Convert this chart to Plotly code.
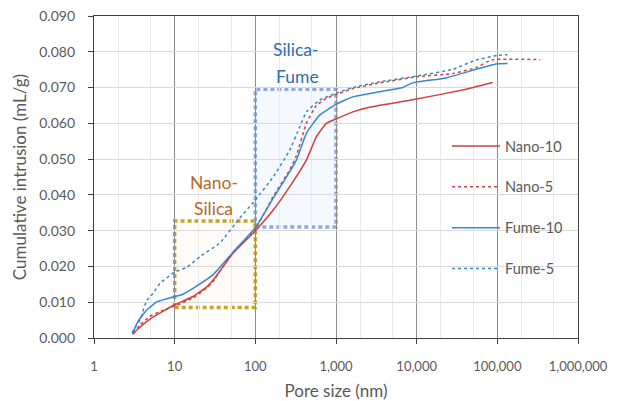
import plotly.graph_objects as go

# ---- data ----
nano10_x = [3.0, 3.5, 4.9, 7.2, 10, 16.9, 25, 30, 36, 53, 100, 166, 267, 429, 570, 759, 1000, 1620, 2600, 10000, 37000, 87500]
nano10_y = [0.0010, 0.0025, 0.0052, 0.0075, 0.0093, 0.0116, 0.0143, 0.0162, 0.0186, 0.0237, 0.0300, 0.0357, 0.0423, 0.0497, 0.0562, 0.0600, 0.0612, 0.0632, 0.0645, 0.0668, 0.0693, 0.0714]

nano5_x = [3.1, 3.7, 4.9, 7.2, 10, 16.9, 25, 30, 36, 53, 100, 166, 267, 323, 429, 570, 759, 1000, 1620, 3460, 10000, 28000, 54500, 87000, 340000]
nano5_y = [0.0012, 0.0036, 0.0060, 0.0078, 0.0089, 0.0112, 0.0140, 0.0158, 0.0185, 0.0240, 0.0305, 0.0395, 0.0470, 0.0510, 0.0600, 0.0650, 0.0670, 0.0681, 0.0697, 0.0713, 0.0730, 0.0739, 0.0756, 0.0778, 0.0778]

fume10_x = [3.0, 3.5, 4.5, 6.0, 10, 12.2, 16.9, 30, 53, 100, 166, 267, 323, 429, 627, 1000, 1600, 3460, 6670, 8870, 23200, 54500, 96000, 134000]
fume10_y = [0.0012, 0.0046, 0.0078, 0.0101, 0.0116, 0.0121, 0.0139, 0.0177, 0.0240, 0.0308, 0.0390, 0.0465, 0.0497, 0.0572, 0.0623, 0.0653, 0.0674, 0.0688, 0.0700, 0.0713, 0.0727, 0.0751, 0.0766, 0.0767]

fume5_x = [2.95, 3.37, 3.71, 4.5, 5.4, 6.6, 10, 14, 20.5, 36, 64, 100, 166, 267, 355, 429, 627, 1000, 1600, 3460, 10000, 28000, 54500, 100000, 134000]
fume5_y = [0.0015, 0.0036, 0.0050, 0.0105, 0.0125, 0.0153, 0.0184, 0.0197, 0.0227, 0.0265, 0.0335, 0.0386, 0.0450, 0.0525, 0.0590, 0.0632, 0.0665, 0.0684, 0.0700, 0.0716, 0.0732, 0.0751, 0.0777, 0.0790, 0.0792]

x_tickvals = [1, 10, 100, 1000, 10000, 100000, 1000000]
x_ticktext = ["1", "10", "100", "1,000", "10,000", "100,000", "1,000,000"]
y_tickvals = [0.0, 0.01, 0.02, 0.03, 0.04, 0.05, 0.06, 0.07, 0.08, 0.09]

# highlighted regions: (x0, x1, y0, y1)
silica_fume_box = (100, 1000, 0.031, 0.0695)
nano_silica_box = (10, 100, 0.0085, 0.0327)

RED = "#D0403F"
BLUE = "#3A87C9"
FONT = "Lato"
GRAY_TXT = "#595959"

fig = go.Figure()
series = [
    ("Nano-10", nano10_x, nano10_y, RED, "solid"),
    ("Nano-5", nano5_x, nano5_y, RED, "dot"),
    ("Fume-10", fume10_x, fume10_y, BLUE, "solid"),
    ("Fume-5", fume5_x, fume5_y, BLUE, "dot"),
]
for name, xs, ys, col, dash in series:
    fig.add_trace(go.Scatter(
        x=xs, y=ys, name=name, mode="lines", legendgroup=name,
        line=dict(color=col, width=1.5, dash=dash, shape="spline", smoothing=0.4),
    ))

# boxes
x0, x1, y0, y1 = silica_fume_box
fig.add_shape(type="rect", xref="x", yref="y", x0=x0, x1=x1, y0=y0, y1=y1,
              line=dict(color="#8EA9DB", width=3.5, dash="4px,3px"),
              fillcolor="rgba(222,232,246,0.3)", layer="below")
x0, x1, y0, y1 = nano_silica_box
fig.add_shape(type="rect", xref="x", yref="y", x0=x0, x1=x1, y0=y0, y1=y1,
              line=dict(color="#C9A227", width=3.5, dash="4px,3px"),
              fillcolor="rgba(250,238,230,0.25)", layer="below")

# labels
def label(px, py, text, color):
    fig.add_annotation(xref="paper", yref="paper", x=(px - 94) / 484, y=(338 - py) / 322,
                       xanchor="center", yanchor="middle",
                       text=text, showarrow=False, font=dict(family=FONT, size=17.5, color=color))

label(296, 50, "Silica-", "#2E6DB4")
label(297, 76, "Fume", "#2E6DB4")
label(214, 183, "Nano-", "#B8682A")
label(213, 208, "Silica", "#B8682A")

fig.update_layout(
    width=617, height=401,
    margin=dict(l=94, r=39, t=16, b=63),
    paper_bgcolor="white", plot_bgcolor="white",
    font=dict(family=FONT, size=13, color=GRAY_TXT),
    showlegend=True,
    legend=dict(x=(447 - 94) / 484, y=(338 - 130) / 322, xanchor="left", yanchor="top",
                bgcolor="rgba(0,0,0,0)", tracegroupgap=19, itemwidth=48,
                font=dict(family=FONT, size=14.5, color=GRAY_TXT)),
)
fig.update_xaxes(
    type="log", range=[0, 6],
    tickvals=x_tickvals, ticktext=x_ticktext,
    showgrid=True, gridcolor="#8C8C8C", gridwidth=1,
    minor=dict(showgrid=True, gridcolor="#EBEBEB", ticks=""),
    showline=True, linecolor="#404040", linewidth=1.3, mirror=True,
    ticks="outside", ticklen=5, tickcolor="#404040", ticklabelstandoff=11,
    tickfont=dict(family=FONT, size=13, color=GRAY_TXT),
    title=dict(text="Pore size (nm)", font=dict(family=FONT, size=17, color=GRAY_TXT), standoff=16),
    zeroline=False, automargin=False,
)
fig.update_yaxes(
    range=[0, 0.09], tickvals=y_tickvals, tickformat=".3f",
    showgrid=True, gridcolor="#D9D9D9", gridwidth=1,
    showline=True, linecolor="#404040", linewidth=1.3, mirror=True,
    ticks="outside", ticklen=5, tickcolor="#404040", ticklabelstandoff=10,
    tickfont=dict(family=FONT, size=14, color=GRAY_TXT),
    title=dict(text="Cumulative intrusion (mL/g)", font=dict(family=FONT, size=17, color=GRAY_TXT), standoff=8),
    zeroline=False, automargin=False,
)

fig.write_html("out.html")
